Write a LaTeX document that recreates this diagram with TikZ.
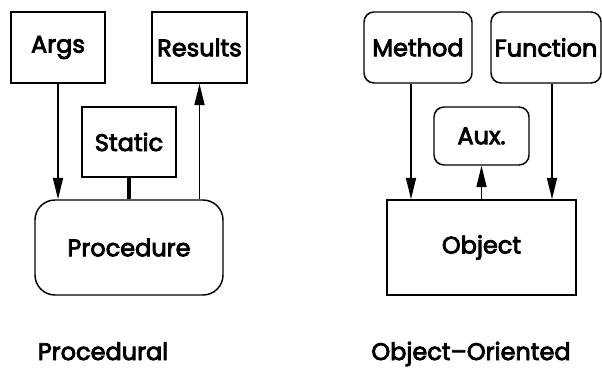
\documentclass[tikz,border=0pt]{standalone}
\usepackage{fontspec}
\setmainfont{Poppins}[FakeBold=3.5]
\usetikzlibrary{arrows.meta}
\begin{document}
\begin{tikzpicture}[x=0.75pt,y=-0.75pt,
  txt/.style={font=\fontsize{18}{21}\selectfont},
  box/.style={draw,line width=1.1pt,inner sep=0pt,txt},
  rbox/.style={box,rounded corners=7.5pt},
  lbl/.style={inner sep=0pt,txt,anchor=base},
  arr/.style={line width=1.1pt,-{Triangle[length=16pt,width=7.5pt]}},
  link/.style={line width=3.2pt}]
\useasboundingbox (0,0) rectangle (602,367);
% Procedural
\node[box,minimum width=70.5pt,minimum height=53.25pt] (args) at (58,47.5) {Args};
\node[box,minimum width=71.25pt,minimum height=53.25pt] (res) at (199.5,47.5) {Results};
\node[box,minimum width=70.5pt,minimum height=52.5pt] (stat) at (129,142) {Static};
\node[box,rounded corners=15pt,minimum width=141pt,minimum height=71.25pt] (proc) at (129,247.5) {Procedure};
\draw[arr] (args.south) -- (args.south |- proc.north);
\draw[link] (stat.south) -- (stat.south |- proc.north);
\draw[arr] (res.south |- proc.north) -- (res.south);
% Object-Oriented
\node[rbox,minimum width=81pt,minimum height=53.25pt] (meth) at (418,47.5) {Method};
\node[rbox,minimum width=82.5pt,minimum height=53.25pt] (func) at (546,47.5) {Function};
\node[rbox,minimum width=71.25pt,minimum height=43.5pt] (aux) at (481.5,136) {Aux.};
\node[box,minimum width=141.75pt,minimum height=71.25pt] (obj) at (481.5,247.5) {Object};
\draw[arr] ([xshift=-5.25pt]meth.south) -- ([xshift=-5.25pt]meth.south |- obj.north);
\draw[arr] (aux.south |- obj.north) -- (aux.south);
\draw[arr] ([xshift=4.5pt]func.south) -- ([xshift=4.5pt]func.south |- obj.north);
% captions
\node[lbl] (cproc) at (103,360) {Procedural};
\node[lbl] (cobj) at (471,360) {Object–Oriented};
\end{tikzpicture}
\end{document}
